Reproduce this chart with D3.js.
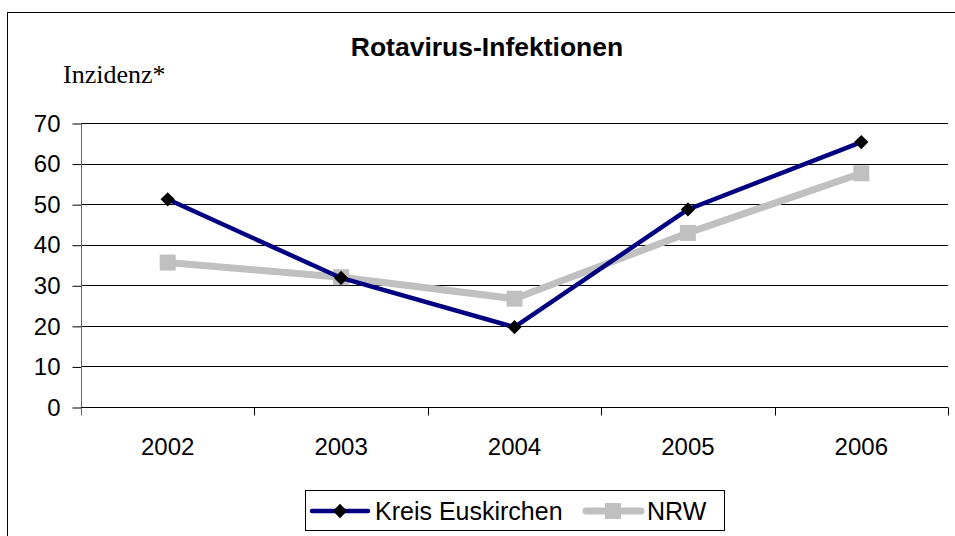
<!DOCTYPE html>
<html lang="de">
	<head>
		<meta charset="utf-8" />
		<title>Rotavirus-Infektionen</title>
		<script type="text/javascript" src="https://cdn.jsdelivr.net/npm/d3@7"></script>
		<style type="text/css">
			body { margin: 0; background: #fff; }
			text { font-family: "Liberation Sans", Arial, sans-serif; fill: #000; }
		</style>
	</head>
	<body>
		<script type="text/javascript">
			// data
			var years = ["2002", "2003", "2004", "2005", "2006"];
			var kreis = [51.2, 31.8, 19.7, 48.7, 65.3];
			var nrw = [35.6, 32.0, 26.7, 42.9, 57.6];
			var yTicks = [0, 10, 20, 30, 40, 50, 60, 70];
			var seriesNames = ["Kreis Euskirchen", "NRW"];

			var w = 955;
			var h = 536;
			// plot box (not "top": that name is taken by window.top)
			var pLeft = 81, pRight = 948, pTop = 123, pBottom = 407;

			var svg = d3.select("body")
				.append("svg")
				.attr("width", w)
				.attr("height", h);

			//outer frame, right and bottom edges run off the page
			svg.append("rect")
				.attr("x", 7.5)
				.attr("y", 12.5)
				.attr("width", 960)
				.attr("height", 540)
				.attr("fill", "none")
				.attr("stroke", "#000")
				.attr("stroke-width", 1);

			var xScale = d3.scaleBand()
				.domain(years)
				.range([pLeft, pRight])
				.padding(0);
			var yScale = d3.scaleLinear()
				.domain([0, 70])
				.range([pBottom, pTop]);

			//title
			svg.append("text")
				.attr("x", 487)
				.attr("y", 56)
				.attr("text-anchor", "middle")
				.style("font-size", "26.5px")
				.style("font-weight", "bold")
				.text("Rotavirus-Infektionen");

			svg.append("text")
				.attr("x", 63)
				.attr("y", 83)
				.style("font-family", "'Liberation Serif', 'Times New Roman', serif")
				.style("font-size", "26px")
				.text("Inzidenz*");

			//gridlines
			svg.append("g")
				.selectAll("line")
				.data(yTicks.filter(function(d) { return d > 0; }))
				.enter()
				.append("line")
				.attr("x1", pLeft)
				.attr("x2", pRight)
				.attr("y1", function(d) { return Math.round(yScale(d)) + 0.5; })
				.attr("y2", function(d) { return Math.round(yScale(d)) + 0.5; })
				.attr("stroke", "#000")
				.attr("stroke-width", 1);

			//Y axis
			var yAxis = d3.axisLeft(yScale)
				.tickValues(yTicks)
				.tickSize(9)
				.tickPadding(12);
			var gy = svg.append("g")
				.attr("class", "y axis")
				.attr("transform", "translate(" + (pLeft + 0.5) + ",0.5)")
				.call(yAxis);
			gy.select(".domain").remove();
			gy.append("line")
				.attr("x1", 0).attr("x2", 0)
				.attr("y1", pTop).attr("y2", pBottom + 8)
				.attr("stroke", "#666");
			gy.selectAll(".tick line").attr("stroke", "#000");
			gy.selectAll("text")
				.style("font-size", "24px")
				.attr("fill", "#000");

			//X axis
			var gx = svg.append("g")
				.attr("class", "x axis")
				.attr("transform", "translate(0," + (pBottom + 0.5) + ")");
			gx.append("line")
				.attr("x1", pLeft).attr("x2", pRight)
				.attr("stroke", "#000");
			gx.selectAll(".sep")
				.data(years.slice(1).concat(["end"]))
				.enter()
				.append("line")
				.attr("class", "sep")
				.attr("x1", function(d, i) { return Math.round(pLeft + xScale.bandwidth() * (i + 1)) + 0.5; })
				.attr("x2", function(d, i) { return Math.round(pLeft + xScale.bandwidth() * (i + 1)) + 0.5; })
				.attr("y1", 0)
				.attr("y2", 8)
				.attr("stroke", "#000");
			gx.selectAll(".lab")
				.data(years)
				.enter()
				.append("text")
				.attr("class", "lab")
				.attr("x", function(d) { return xScale(d) + xScale.bandwidth() / 2; })
				.attr("y", 47)
				.attr("text-anchor", "middle")
				.style("font-size", "24px")
				.text(function(d) { return d; });

			var line = d3.line()
				.x(function(d, i) { return xScale(years[i]) + xScale.bandwidth() / 2; })
				.y(function(d) { return yScale(d); });

			//NRW
			svg.append("path")
				.datum(nrw)
				.attr("d", line)
				.attr("fill", "none")
				.attr("stroke", "#c0c0c0")
				.attr("stroke-width", 7);
			svg.append("g")
				.selectAll("rect")
				.data(nrw)
				.enter()
				.append("rect")
				.attr("x", function(d, i) { return xScale(years[i]) + xScale.bandwidth() / 2 - 8; })
				.attr("y", function(d) { return yScale(d) - 8; })
				.attr("width", 16)
				.attr("height", 16)
				.attr("fill", "#c0c0c0");

			//Kreis Euskirchen
			svg.append("path")
				.datum(kreis)
				.attr("d", line)
				.attr("fill", "none")
				.attr("stroke", "#000080")
				.attr("stroke-width", 4.5);
			var diamond = d3.symbol().type(d3.symbolDiamond2).size(130);
			svg.append("g")
				.selectAll("path")
				.data(kreis)
				.enter()
				.append("path")
				.attr("d", diamond)
				.attr("transform", function(d, i) {
					return "translate(" + (xScale(years[i]) + xScale.bandwidth() / 2) + "," + yScale(d) + ")";
				})
				.attr("fill", "#000");

			//legend
			var lg = svg.append("g");
			lg.append("rect")
				.attr("x", 305.5)
				.attr("y", 490.5)
				.attr("width", 419)
				.attr("height", 40)
				.attr("fill", "#fff")
				.attr("stroke", "#000");
			lg.append("line")
				.attr("x1", 312).attr("x2", 368)
				.attr("y1", 511).attr("y2", 511)
				.attr("stroke", "#000080")
				.attr("stroke-width", 4.5)
				.attr("stroke-linecap", "round");
			lg.append("path")
				.attr("d", diamond)
				.attr("transform", "translate(340,511)")
				.attr("fill", "#000");
			lg.append("text")
				.attr("x", 375)
				.attr("y", 520)
				.style("font-size", "25px")
				.text(seriesNames[0]);
			lg.append("line")
				.attr("x1", 586).attr("x2", 641)
				.attr("y1", 511).attr("y2", 511)
				.attr("stroke", "#c0c0c0")
				.attr("stroke-width", 7)
				.attr("stroke-linecap", "round");
			lg.append("rect")
				.attr("x", 605).attr("y", 503)
				.attr("width", 16).attr("height", 16)
				.attr("fill", "#c0c0c0");
			lg.append("text")
				.attr("x", 647)
				.attr("y", 520)
				.style("font-size", "25px")
				.text(seriesNames[1]);
		</script>
	</body>
</html>
